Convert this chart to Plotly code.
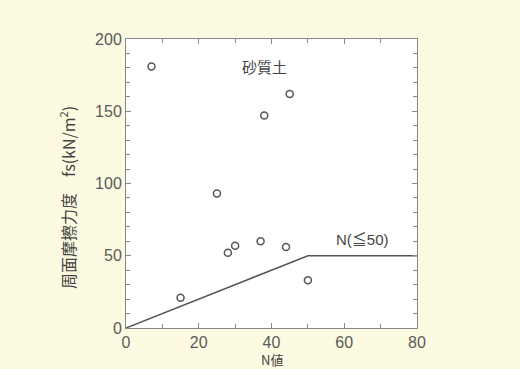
import plotly.graph_objects as go

n_values = [7, 15, 25, 28, 30, 37, 38, 44, 45, 50]
fs_values = [181, 21, 93, 52, 57, 60, 147, 56, 162, 33]
line_n = [0, 50, 80]
line_fs = [0, 50, 50]

fig = go.Figure()
fig.add_trace(go.Scatter(x=line_n, y=line_fs, mode="lines",
                         line=dict(color="#555555", width=1.5), showlegend=False))
fig.add_trace(go.Scatter(x=n_values, y=fs_values, mode="markers",
                         marker=dict(symbol="circle-open", size=7, color="#555555",
                                     line=dict(width=1.5)), showlegend=False))

fig.add_annotation(x=38, y=181, text="砂質土", showarrow=False,
                   font=dict(size=15, color="#444444", family="Noto Sans CJK JP"))
fig.add_annotation(x=65, y=61, text="N(≦50)", showarrow=False,
                   font=dict(size=15, color="#444444", family="Liberation Sans, Noto Sans CJK JP"))
# axis titles
fig.add_annotation(x=0.5, xref="paper", y=0, yref="paper", yanchor="top", yshift=-21,
                   text="N値", showarrow=False, borderpad=0,
                   font=dict(size=13, color="#444444", family="Noto Sans CJK JP"))
fig.add_annotation(x=0, xref="paper", xshift=-58, xanchor="center", y=90, yref="y",
                   textangle=-90,
                   text="周面摩擦力度　fs(kN/m<sup>2</sup>)", showarrow=False,
                   font=dict(size=16, color="#444444", family="Noto Sans CJK JP"))

axis_common = dict(showgrid=False, zeroline=False, showline=True, linecolor="#888888",
                   linewidth=1, mirror="ticks", ticks="inside", ticklen=5,
                   tickcolor="#888888", automargin=False,
                   tickfont=dict(size=16, color="#5a5a5a", family="Liberation Sans"))

fig.update_xaxes(range=[0, 80], tick0=0, dtick=20,
                 minor=dict(dtick=10, ticks="inside", ticklen=4, tickcolor="#888888"),
                 **axis_common)
fig.update_yaxes(range=[0, 200], tick0=0, dtick=50,
                 minor=dict(dtick=10, ticks="inside", ticklen=4, tickcolor="#888888"),
                 **axis_common)

fig.update_layout(width=520, height=369,
                  margin=dict(l=126, r=103, t=39, b=41),
                  paper_bgcolor="#fcfbe2", plot_bgcolor="#ffffff")

fig.write_html("out.html", config={"displayModeBar": False},
               post_script="document.body.style.margin='0';"
                           "document.body.style.background='#fcfbe2';"
                           "document.body.style.overflow='hidden';")
